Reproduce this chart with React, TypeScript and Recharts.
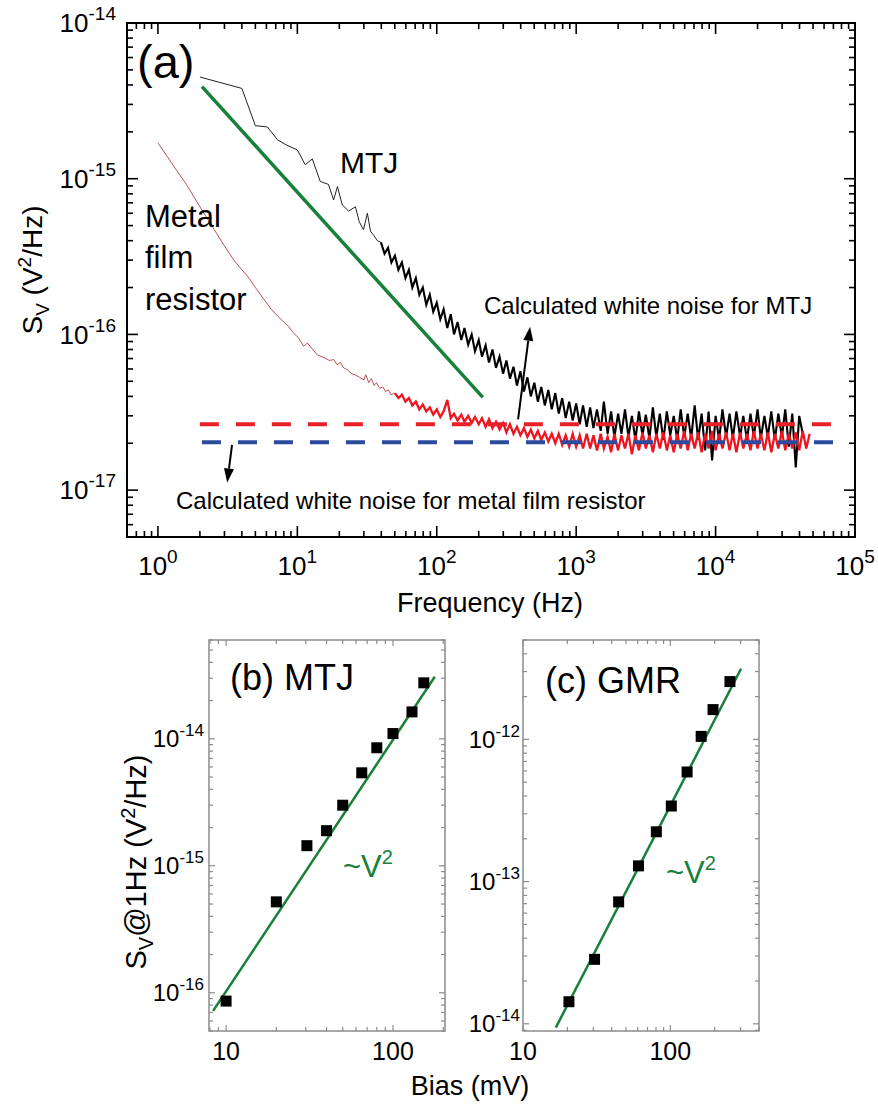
import React from "react";
import { ComposedChart, Line, Scatter, XAxis, YAxis, ReferenceArea, ReferenceLine } from "recharts";

const FONT = "'Liberation Sans', Arial, Helvetica, sans-serif";
const GREEN = "#17803a";

// ---------- (a) noise spectra ----------
// MTJ, low-frequency part (sparse, thin)
const mtjLowFreq = [2.0, 4.0, 5.0, 6.1, 7.2, 8.3, 10, 11.4, 12.8, 14.6, 16.7, 18.2, 19.4, 21.0, 23.3, 26.1, 27.8, 29.8, 31.8, 33.5, 35.5, 37.5, 39.8];
const mtjLowSv = [4.5e-15, 3.8e-15, 2.19e-15, 2.15e-15, 1.78e-15, 1.65e-15, 1.53e-15, 1.23e-15, 1.34e-15, 9.6e-16, 9.2e-16, 7.3e-16, 8.9e-16, 6.8e-16, 6.2e-16, 6.6e-16, 5.3e-16, 4.7e-16, 6.0e-16, 4.6e-16, 4.3e-16, 4.0e-16, 3.9e-16];

// metal film resistor, low-frequency part
const resLowFreq = [1.0, 1.3, 1.6, 2.0, 2.5, 3.0, 3.5, 4.0, 4.5, 5.0, 5.7, 6.5, 7.3, 8.0, 8.6, 9.4, 10.2, 11.1, 11.8, 12.6, 13.9, 15.5, 17.0, 18.2, 19.3, 20.4, 21.5, 23, 24.5, 26, 28, 30, 31, 32.5, 34, 35.5, 37, 39, 41, 43, 45, 47, 50.1];
const resLowSv = [1.7e-15, 1.2e-15, 9.2e-16, 6.6e-16, 4.8e-16, 3.7e-16, 3.0e-16, 2.6e-16, 2.3e-16, 2.0e-16, 1.7e-16, 1.45e-16, 1.3e-16, 1.2e-16, 1.13e-16, 1.02e-16, 9.5e-17, 8.4e-17, 8.8e-17, 8.2e-17, 7.4e-17, 7.1e-17, 6.8e-17, 6.9e-17, 6.4e-17, 6.6e-17, 6.1e-17, 5.9e-17, 5.6e-17, 5.5e-17, 5.3e-17, 5.1e-17, 5.5e-17, 4.9e-17, 5.2e-17, 4.7e-17, 4.9e-17, 4.5e-17, 4.6e-17, 4.3e-17, 4.4e-17, 4.1e-17, 4.2e-17];

// shared frequency grid for the dense, noisy part of both traces
const noisyFreq = [
  39.8, 42.2, 44.7, 47.3, 50.1, 53.1, 56.2, 59.6, 63.1, 66.8, 70.8, 75.0, 79.4, 84.1, 89.1, 94.4,
  100, 106, 112, 119, 126, 133, 141, 150, 158, 168, 178, 188, 200, 211, 224, 237, 251, 266, 282, 299,
  316, 335, 355, 376, 398, 422, 447, 473, 501, 531, 562, 596, 631, 668, 708, 750, 794, 841, 891, 944,
  1000, 1060, 1120, 1190, 1260, 1330, 1410, 1500, 1580, 1680, 1780, 1880, 2000, 2110, 2240, 2370,
  2510, 2660, 2820, 2990, 3160, 3350, 3550, 3760, 3980, 4220, 4470, 4730, 5010, 5310, 5620, 5960,
  6310, 6680, 7080, 7500, 7940, 8410, 8910, 9440, 10000, 10600, 11200, 11900, 12600, 13300, 14100,
  15000, 15800, 16800, 17800, 18800, 20000, 21100, 22400, 23700, 25100, 26600, 28200, 29900, 31600,
  33500, 35500, 37600, 39800, 42200, 44700, 47300,
];
const mtjNoisySv = [
  3.9e-16, 3.3e-16, 3.6e-16, 2.9e-16, 3.2e-16, 2.6e-16, 2.9e-16, 2.3e-16, 2.6e-16, 2.0e-16, 2.3e-16, 1.8e-16, 2.0e-16, 1.55e-16, 1.8e-16, 1.4e-16,
  1.6e-16, 1.25e-16, 1.45e-16, 1.1e-16, 1.35e-16, 1.0e-16, 1.2e-16, 9.2e-17, 1.1e-16, 8.6e-17, 1.0e-16, 7.8e-17, 9.2e-17, 7.2e-17, 8.5e-17, 6.6e-17, 8.0e-17, 6.1e-17, 7.2e-17, 5.6e-17,
  6.8e-17, 5.2e-17, 6.2e-17, 4.7e-17, 5.8e-17, 4.3e-17, 5.3e-17, 4.0e-17, 4.9e-17, 3.7e-17, 4.6e-17, 3.5e-17, 4.4e-17, 3.3e-17, 4.2e-17, 3.1e-17, 3.9e-17, 2.9e-17, 3.7e-17, 2.8e-17,
  3.6e-17, 2.65e-17, 3.5e-17, 2.55e-17, 3.4e-17, 2.5e-17, 3.3e-17, 2.4e-17, 3.7e-17, 2.3e-17, 3.2e-17, 2.2e-17, 3.1e-17, 2.3e-17, 3.3e-17, 2.2e-17,
  3.0e-17, 2.1e-17, 3.2e-17, 2.25e-17, 3.05e-17, 2.15e-17, 3.4e-17, 2.2e-17, 3.1e-17, 2.1e-17, 3.2e-17, 2.25e-17, 3.0e-17, 2.1e-17, 3.3e-17, 2.2e-17,
  3.1e-17, 2.15e-17, 3.5e-17, 2.1e-17, 3.1e-17, 1.8e-17, 3.2e-17, 1.55e-17, 3.0e-17, 2.1e-17, 3.3e-17, 2.2e-17, 3.1e-17, 2.15e-17, 3.2e-17,
  2.2e-17, 3.0e-17, 2.1e-17, 3.1e-17, 2.2e-17, 3.3e-17, 2.15e-17, 3.0e-17, 2.2e-17, 3.2e-17, 2.1e-17, 3.1e-17, 2.2e-17, 3.3e-17,
  1.9e-17, 3.1e-17, 1.4e-17, 3.0e-17, 2.3e-17, null, null,
];
const resNoisySv = [
  null, null, null, null, 4.2e-17, 3.9e-17, 4.1e-17, 3.7e-17, 3.9e-17, 3.5e-17, 3.7e-17, 3.3e-17, 3.55e-17, 3.2e-17, 3.4e-17, 3.05e-17,
  3.3e-17, 2.95e-17, 3.2e-17, 3.8e-17, 2.9e-17, 3.1e-17, 2.8e-17, 3.05e-17, 2.75e-17, 3.0e-17, 2.7e-17, 2.95e-17, 2.65e-17, 2.9e-17, 2.55e-17, 2.85e-17, 2.5e-17, 2.75e-17, 2.45e-17, 2.7e-17,
  2.35e-17, 2.65e-17, 2.3e-17, 2.55e-17, 2.25e-17, 2.5e-17, 2.2e-17, 2.45e-17, 2.15e-17, 2.4e-17, 2.1e-17, 2.35e-17, 2.05e-17, 2.3e-17, 2.0e-17, 2.3e-17, 1.95e-17, 2.25e-17, 1.9e-17, 2.3e-17,
  1.9e-17, 2.25e-17, 1.85e-17, 2.3e-17, 1.85e-17, 2.25e-17, 1.8e-17, 2.3e-17, 1.85e-17, 2.2e-17, 1.75e-17, 2.3e-17, 1.8e-17, 2.25e-17, 1.85e-17, 2.3e-17,
  1.7e-17, 2.25e-17, 1.8e-17, 2.35e-17, 1.85e-17, 2.25e-17, 1.75e-17, 2.3e-17, 1.85e-17, 2.35e-17, 1.8e-17, 2.25e-17, 1.75e-17, 2.3e-17, 1.85e-17, 2.4e-17,
  1.8e-17, 2.3e-17, 1.85e-17, 2.35e-17, 1.75e-17, 2.3e-17, 1.85e-17, 2.4e-17, 1.8e-17, 2.3e-17, 1.85e-17, 2.35e-17, 1.8e-17, 2.3e-17, 1.75e-17,
  2.35e-17, 1.85e-17, 2.3e-17, 1.8e-17, 2.4e-17, 1.85e-17, 2.3e-17, 1.8e-17, 2.35e-17, 1.75e-17, 2.3e-17, 1.85e-17, 2.4e-17, 1.8e-17,
  2.3e-17, 1.85e-17, 2.35e-17, 1.8e-17, 2.4e-17, 1.85e-17, 2.3e-17,
];

// 1/f guide line and calculated white-noise levels
const fitAFreq = [2.07, 214];
const fitASv = [3.9e-15, 3.94e-17];
const whiteMtjFreq = [2.0, 74000];
const whiteMtjSv = [2.65e-17, 2.65e-17];
const whiteResFreq = [2.07, 74000];
const whiteResSv = [2.03e-17, 2.03e-17];

// ---------- (b) MTJ: S_V at 1 Hz vs bias ----------
const mtjBias = [10, 20, 30.5, 40, 50, 65, 80, 100, 130, 153];
const mtjSv1Hz = [8.6e-17, 5.2e-16, 1.44e-15, 1.89e-15, 3.0e-15, 5.4e-15, 8.5e-15, 1.1e-14, 1.63e-14, 2.76e-14];
const mtjFitBias = [8.36, 178];
const mtjFitSv = [7.2e-17, 3.08e-14];

// ---------- (c) GMR ----------
const gmrBias = [20.5, 30.6, 44.6, 60.8, 80.4, 101.6, 130, 162, 195, 254];
const gmrSv1Hz = [1.43e-14, 2.84e-14, 7.2e-14, 1.29e-13, 2.24e-13, 3.4e-13, 5.9e-13, 1.05e-12, 1.62e-12, 2.55e-12];
const gmrFitBias = [16.7, 302];
const gmrFitSv = [9.4e-15, 3.14e-12];

const pts = (xs: number[], ys: (number | null)[]) =>
  xs.map((x, i) => ({ x, y: ys[i] })).filter((p) => p.y != null);

// log ticks: 1..9 x 10^e for each decade, clipped to the domain
const logTicks = (lo: number, hi: number) => {
  const out: number[] = [];
  for (let e = Math.floor(Math.log10(lo)); e <= Math.ceil(Math.log10(hi)); e++) {
    for (let k = 1; k <= 9; k++) {
      const v = k * Math.pow(10, e);
      if (v >= lo * 0.9999 && v <= hi * 1.0001) out.push(v);
    }
  }
  return out;
};

const isDecade = (v: number) => {
  const lg = Math.log10(v);
  return Math.abs(lg - Math.round(lg)) < 1e-6;
};

type TickCfg = {
  span: number;
  major: number;
  minor: number;
  stroke: string;
  sw: number;
  fs: number;
  supFs: number;
  supDy: number;
  sup: boolean;
  gap: number;
};

const makeXTick = (c: TickCfg) => (props: any) => {
  const { x, y, payload } = props;
  const v = Number(payload.value);
  const major = isDecade(v);
  const len = major ? c.major : c.minor;
  return (
    <g>
      <line x1={x} y1={y} x2={x} y2={y - len} stroke={c.stroke} strokeWidth={c.sw} />
      <line x1={x} y1={y - c.span} x2={x} y2={y - c.span + len} stroke={c.stroke} strokeWidth={c.sw} />
      {major && (
        <text x={x} y={y + c.gap} textAnchor="middle" fontSize={c.fs} fontFamily={FONT} fill="#000">
          {c.sup ? (
            <>
              <tspan>10</tspan>
              <tspan dy={c.supDy} fontSize={c.supFs}>{Math.round(Math.log10(v))}</tspan>
            </>
          ) : (
            String(Math.round(v))
          )}
        </text>
      )}
    </g>
  );
};

const makeYTick = (c: TickCfg) => (props: any) => {
  const { x, y, payload } = props;
  const v = Number(payload.value);
  const major = isDecade(v);
  const len = major ? c.major : c.minor;
  return (
    <g>
      <line x1={x} y1={y} x2={x + len} y2={y} stroke={c.stroke} strokeWidth={c.sw} />
      <line x1={x + c.span} y1={y} x2={x + c.span - len} y2={y} stroke={c.stroke} strokeWidth={c.sw} />
      {major && (
        <text x={x - c.gap} y={y + c.fs * 0.36} textAnchor="end" fontSize={c.fs} fontFamily={FONT} fill="#000">
          <tspan>10</tspan>
          <tspan dy={c.supDy} fontSize={c.supFs}>{Math.round(Math.log10(v))}</tspan>
        </text>
      )}
    </g>
  );
};

const arrowShape = (p: any) => {
  const { x1, y1, x2, y2 } = p;
  const dx = x2 - x1;
  const dy = y2 - y1;
  const len = Math.hypot(dx, dy) || 1;
  const ux = dx / len;
  const uy = dy / len;
  const hl = 14;
  const hw = 5;
  const bx = x2 - ux * hl;
  const by = y2 - uy * hl;
  return (
    <g>
      <line x1={x1} y1={y1} x2={bx} y2={by} stroke="#000" strokeWidth={2} />
      <polygon points={`${x2},${y2} ${bx - uy * hw},${by + ux * hw} ${bx + uy * hw},${by - ux * hw}`} fill="#000" />
    </g>
  );
};

const squareShape = (p: any) => <rect x={p.cx - 5.5} y={p.cy - 5.5} width={11} height={11} fill="#000" />;

// panel (a)
const A_X: [number, number] = [0.6, 1e5];
const A_Y: [number, number] = [5e-18, 1e-14];
const aTickBase = { major: 11, minor: 6, stroke: "#000", sw: 1.6, supFs: 19, supDy: -12 };
const aXTick = makeXTick({ ...aTickBase, span: 514, fs: 26, sup: true, gap: 38 });
const aYTick = makeYTick({ ...aTickBase, span: 728, fs: 26, sup: true, gap: 11 });

// panels (b) and (c)
const B_X: [number, number] = [7.9, 205];
const B_Y: [number, number] = [5e-17, 6e-14];
const C_X: [number, number] = [10, 400];
const C_Y: [number, number] = [8.9e-15, 5e-12];
const bcBase = { major: 6, minor: 4, stroke: "#8c8c8c", sw: 1.2, supFs: 17, supDy: -11 };
const bcXTick = makeXTick({ ...bcBase, span: 391, fs: 25, sup: false, gap: 29 });
const bYTick = makeYTick({ ...bcBase, span: 236, fs: 24, sup: true, gap: 5 });
const cYTick = makeYTick({ ...bcBase, span: 236, fs: 24, sup: true, gap: 3 });

// axes get 1px of room (a zero-size axis is not drawn); margins are reduced by 1 to compensate
const axisCommon = {
  type: "number" as const,
  scale: "log" as const,
  allowDataOverflow: true,
  interval: 0 as const,
  tickLine: false,
  axisLine: false,
  tickSize: 0,
  tickMargin: 0,
};

const SmallPanel = ({
  xDom,
  yDom,
  yTick,
  bias,
  sv,
  fitBias,
  fitSv,
  width,
  margin,
}: any) => (
  <ComposedChart width={width} height={507} margin={margin}>
    <XAxis {...axisCommon} dataKey="x" domain={xDom} ticks={logTicks(xDom[0], xDom[1])} tick={bcXTick} height={1} />
    <YAxis {...axisCommon} dataKey="y" domain={yDom} ticks={logTicks(yDom[0], yDom[1])} tick={yTick} width={1} />
    <ReferenceArea x1={xDom[0]} x2={xDom[1]} y1={yDom[0]} y2={yDom[1]} fill="none" stroke="#8c8c8c" strokeWidth={1.5} ifOverflow="visible" />
    <Line data={pts(fitBias, fitSv)} dataKey="y" stroke={GREEN} strokeWidth={2.5} dot={false} activeDot={false} isAnimationActive={false} />
    <Scatter data={pts(bias, sv)} dataKey="y" shape={squareShape} isAnimationActive={false} />
  </ComposedChart>
);

export default function App() {
  return (
    <div style={{ position: "absolute", left: 0, top: 0, width: 878, height: 1107, background: "#fff", overflow: "hidden" }}>
      <div style={{ position: "absolute", left: 0, top: 0 }}>
        <ComposedChart width={878} height={640} margin={{ top: 23, right: 23, bottom: 102, left: 126 }}>
          <XAxis {...axisCommon} dataKey="x" domain={A_X} ticks={logTicks(A_X[0], A_X[1])} tick={aXTick} height={1} />
          <YAxis {...axisCommon} dataKey="y" domain={A_Y} ticks={logTicks(A_Y[0], A_Y[1])} tick={aYTick} width={1} />
          <ReferenceArea x1={A_X[0]} x2={A_X[1]} y1={A_Y[0]} y2={A_Y[1]} fill="none" stroke="#000" strokeWidth={2} ifOverflow="visible" />
          <Line data={pts(mtjLowFreq, mtjLowSv)} dataKey="y" stroke="#222" strokeWidth={1} dot={false} activeDot={false} isAnimationActive={false} />
          <Line data={pts(noisyFreq, mtjNoisySv)} dataKey="y" stroke="#000" strokeWidth={2.1} dot={false} activeDot={false} isAnimationActive={false} />
          <Line data={pts(resLowFreq, resLowSv)} dataKey="y" stroke="#b83a44" strokeWidth={0.9} dot={false} activeDot={false} isAnimationActive={false} />
          <Line data={pts(noisyFreq, resNoisySv)} dataKey="y" stroke="#f0141e" strokeWidth={2.3} dot={false} activeDot={false} isAnimationActive={false} />
          <Line data={pts(fitAFreq, fitASv)} dataKey="y" stroke={GREEN} strokeWidth={3.5} dot={false} activeDot={false} isAnimationActive={false} />
          <Line data={pts(whiteMtjFreq, whiteMtjSv)} dataKey="y" stroke="#e8202a" strokeWidth={4} strokeDasharray="19 17" dot={false} activeDot={false} isAnimationActive={false} />
          <Line data={pts(whiteResFreq, whiteResSv)} dataKey="y" stroke="#2c4a9e" strokeWidth={4} strokeDasharray="19 17" dot={false} activeDot={false} isAnimationActive={false} />
          <ReferenceLine segment={[{ x: 3.4, y: 1.95e-17 }, { x: 3.14, y: 1.12e-17 }]} shape={arrowShape} ifOverflow="visible" />
          <ReferenceLine segment={[{ x: 383, y: 2.85e-17 }, { x: 467, y: 1.12e-16 }]} shape={arrowShape} ifOverflow="visible" />
        </ComposedChart>
      </div>
      <div style={{ position: "absolute", left: 0, top: 600 }}>
        <SmallPanel xDom={B_X} yDom={B_Y} yTick={bYTick} bias={mtjBias} sv={mtjSv1Hz} fitBias={mtjFitBias} fitSv={mtjFitSv}
          width={460} margin={{ top: 40, right: 15, bottom: 75, left: 208 }} />
      </div>
      <div style={{ position: "absolute", left: 460, top: 600 }}>
        <SmallPanel xDom={C_X} yDom={C_Y} yTick={cYTick} bias={gmrBias} sv={gmrSv1Hz} fitBias={gmrFitBias} fitSv={gmrFitSv}
          width={418} margin={{ top: 40, right: 119, bottom: 75, left: 62 }} />
      </div>
      <svg width={878} height={1107} style={{ position: "absolute", left: 0, top: 0, pointerEvents: "none" }} fontFamily={FONT} fill="#000">
        <text x={137} y={78} fontSize={47}>(a)</text>
        <text x={340} y={173} fontSize={30}>MTJ</text>
        <text x={145} y={227} fontSize={31}>Metal</text>
        <text x={145} y={268} fontSize={31}>film</text>
        <text x={145} y={310} fontSize={31}>resistor</text>
        <text x={484} y={314} fontSize={24}>Calculated white noise for MTJ</text>
        <text x={176} y={509} fontSize={24}>Calculated white noise for metal film resistor</text>
        <text x={490} y={612} fontSize={27} textAnchor="middle">Frequency (Hz)</text>
        <text transform="translate(42,270) rotate(-90)" textAnchor="middle" fontSize={28}>
          S<tspan dy={7} fontSize={19}>V</tspan>
          <tspan dy={-7}> (V</tspan>
          <tspan dy={-11} fontSize={19}>2</tspan>
          <tspan dy={11}>/Hz)</tspan>
        </text>

        <text x={230} y={690} fontSize={36}>(b) MTJ</text>
        <text x={343} y={877} fontSize={31} fill={GREEN}>
          ~V<tspan dy={-13} fontSize={20}>2</tspan>
        </text>
        <text x={545} y={693} fontSize={36}>(c) GMR</text>
        <text x={666} y={883} fontSize={31} fill={GREEN}>
          ~V<tspan dy={-13} fontSize={20}>2</tspan>
        </text>
        <text x={470} y={1095} fontSize={27} textAnchor="middle">Bias (mV)</text>
        <text transform="translate(146,862) rotate(-90)" textAnchor="middle" fontSize={29}>
          S<tspan dy={7} fontSize={20}>V</tspan>
          <tspan dy={-7}>@1Hz (V</tspan>
          <tspan dy={-11} fontSize={20}>2</tspan>
          <tspan dy={11}>/Hz)</tspan>
        </text>
      </svg>
    </div>
  );
}
